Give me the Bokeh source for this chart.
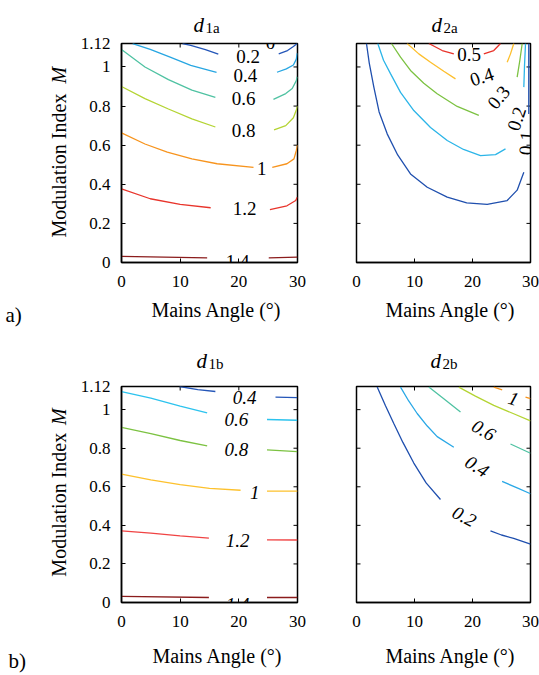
from bokeh.plotting import figure
from bokeh.models import Range1d, FixedTicker, Label, ColumnDataSource
from bokeh.layouts import column, row
from bokeh.embed import file_html
from bokeh.resources import INLINE
from bokeh.core.properties import value

FONT = "Liberation Serif"
nan = float("nan")

# ---------------- axes ----------------
x_ticks = [0, 10, 20, 30]
x_tick_labels = ["0", "10", "20", "30"]
y_ticks = [0, 0.2, 0.4, 0.6, 0.8, 1, 1.12]
y_tick_labels = ["0", "0.2", "0.4", "0.6", "0.8", "1", "1.12"]
x_label = "Mains Angle (\u00b0)"
y_label = "Modulation Index"
y_label_var = "M"

# ---------------- d1a contours (x: mains angle, y: M) ----------------
d1a_colors = ["#2456b8", "#27a6e2", "#4fc2a2", "#b4d433", "#f7941e", "#e8342b", "#8b1c1c"]
d1a_l02_x = [10.4, 11.8, 14.3, 16.5, nan, 26.8, 28.3, 29.3, 29.95]
d1a_l02_y = [1.12, 1.11, 1.089, 1.066, nan, 1.067, 1.084, 1.105, 1.12]
d1a_l04_x = [1.9, 4.9, 8.4, 11.8, 16.2, nan, 26.5, 28.1, 29.3, 29.8, 29.95]
d1a_l04_y = [1.119, 1.09, 1.049, 1.008, 0.972, nan, 0.973, 0.99, 1.01, 1.04, 1.07]
d1a_l06_x = [0, 4.0, 8.0, 12.0, 16.0, nan, 25.9, 28.0, 29.1, 29.8, 29.95]
d1a_l06_y = [1.089, 1.0, 0.935, 0.882, 0.845, nan, 0.834, 0.864, 0.89, 0.93, 0.95]
d1a_l08_x = [0, 4, 8, 12, 16, nan, 26, 28, 29.3, 29.8, 30]
d1a_l08_y = [0.90, 0.838, 0.785, 0.735, 0.693, nan, 0.678, 0.70, 0.74, 0.78, 0.80]
d1a_l10_x = [0, 4, 7.8, 12, 16.3, 22.5, nan, 25.7, 28.2, 29.4, 29.8, 30]
d1a_l10_y = [0.663, 0.606, 0.564, 0.53, 0.505, 0.487, nan, 0.487, 0.505, 0.53, 0.573, 0.6]
d1a_l12_x = [0, 4.9, 10, 15.2, nan, 25.3, 28.2, 29.7, 29.95]
d1a_l12_y = [0.377, 0.326, 0.297, 0.28, nan, 0.27, 0.29, 0.317, 0.334]
d1a_l14_x = [0, 14.6, nan, 25.1, 30]
d1a_l14_y = [0.031, 0.024, nan, 0.024, 0.027]
d1a_lab_text = ["0", "0.2", "0.4", "0.6", "0.8", "1", "1.2", "1.4"]
d1a_lab_x = [25.4, 21.6, 21.1, 20.8, 20.8, 23.9, 21.0, 19.8]
d1a_lab_y = [1.125, 1.053, 0.956, 0.839, 0.675, 0.481, 0.276, 0.005]
d1a_lab_ang = [0, 0, 0, 0, 0, 0, 0, 0]

# ---------------- d2a contours ----------------
d2a_colors = ["#1f4fae", "#2cb5e8", "#7cc242", "#fdbf2d", "#e8342b"]
d2a_l01_x = [1.72, 2.2, 2.99, 3.9, 5.29, 7.1, 9.31, 12.2, 15.64, 19.0, 22.53, 25.98, 27.7, 28.85, nan, 29.7, 29.7]
d2a_l01_y = [1.12, 1.02, 0.897, 0.77, 0.658, 0.55, 0.453, 0.385, 0.334, 0.305, 0.297, 0.317, 0.37, 0.462, nan, 0.76, 1.12]
d2a_l02_x = [3.67, 4.66, 5.86, 7.59, 9.88, 12.76, 15.64, 18.45, 21.38, 23.97, 25.69, nan, 28.85, 28.97, 29.14]
d2a_l02_y = [1.12, 1.034, 0.966, 0.87, 0.777, 0.69, 0.624, 0.578, 0.547, 0.552, 0.581, nan, 0.897, 1.008, 1.12]
d2a_l03_x = [6.03, 7.59, 9.31, 11.6, 13.91, 17.36, 21.09, nan, 27.7, 28.16, 28.57]
d2a_l03_y = [1.12, 1.05, 0.982, 0.917, 0.863, 0.798, 0.752, nan, 0.948, 1.033, 1.12]
d2a_l04_x = [8.74, 10.74, 12.76, 15.05, 17.07, nan, 25.98, 26.55, 27.12]
d2a_l04_y = [1.12, 1.067, 1.024, 0.978, 0.939, nan, 1.024, 1.067, 1.12]
d2a_l05_x = [12.47, 14.78, 16.78, nan, 21.95, 23.67, 24.83]
d2a_l05_y = [1.12, 1.084, 1.067, nan, 1.067, 1.084, 1.12]
d2a_lab_text = ["0.5", "0.4", "0.3", "0.2", "0.1"]
d2a_lab_x = [19.4, 21.6, 24.5, 27.6, 29.25]
d2a_lab_y = [1.062, 0.95, 0.845, 0.735, 0.61]
d2a_lab_ang = [0, 18, 50, 72, 86]

# ---------------- d1b contours ----------------
d1b_colors = ["#2456b8", "#2cc3ee", "#7cc242", "#fdc12d", "#f04343", "#8b1c1c"]
d1b_l04_x = [9.9, 13.0, 16.0, nan, 26.25, 29.95]
d1b_l04_y = [1.12, 1.104, 1.094, nan, 1.065, 1.062]
d1b_l06_x = [0, 5, 10, 14.6, nan, 24.8, 29.95]
d1b_l06_y = [1.093, 1.06, 1.018, 0.983, nan, 0.949, 0.945]
d1b_l08_x = [0, 5, 10, 14.6, nan, 24.8, 29.95]
d1b_l08_y = [0.908, 0.876, 0.84, 0.812, nan, 0.791, 0.782]
d1b_l10_x = [0, 5, 10, 15, 20.3, nan, 24.8, 30]
d1b_l10_y = [0.666, 0.636, 0.611, 0.592, 0.582, nan, 0.577, 0.577]
d1b_l12_x = [0, 5, 10, 14.9, nan, 24.8, 30]
d1b_l12_y = [0.371, 0.36, 0.345, 0.334, nan, 0.325, 0.324]
d1b_l14_x = [0, 14.9, nan, 24.8, 30]
d1b_l14_y = [0.032, 0.026, nan, 0.026, 0.026]
d1b_lab_text = ["0.4", "0.6", "0.8", "1", "1.2", "1.4"]
d1b_lab_x = [21.0, 19.6, 19.6, 22.7, 19.8, 19.8]
d1b_lab_y = [1.061, 0.951, 0.791, 0.570, 0.324, -0.01]
d1b_lab_ang = [0, 0, 0, 0, 0, 0]

# ---------------- d2b contours ----------------
d2b_colors = ["#1f4fae", "#2aa8e6", "#4fc2a2", "#b4d433", "#f7941e"]
d2b_l02_x = [3.57, 5.0, 6.43, 8.0, 9.88, 12.0, 14.48, nan, 23.1, 25.0, 27.1, 30]
d2b_l02_y = [1.117, 1.02, 0.928, 0.83, 0.723, 0.62, 0.534, nan, 0.371, 0.35, 0.332, 0.303]
d2b_l04_x = [7.59, 9.0, 10.46, 12.2, 13.91, 16.78, nan, 25.1, 27.7, 30]
d2b_l04_y = [1.117, 1.045, 0.98, 0.915, 0.86, 0.805, nan, 0.628, 0.594, 0.564]
d2b_l06_x = [12.47, 15.05, 17.93, nan, 26.55, 30]
d2b_l06_y = [1.117, 1.057, 0.988, nan, 0.822, 0.774]
d2b_l08_x = [17.64, 20.5, 23.67, 27.0, 30]
d2b_l08_y = [1.117, 1.07, 1.022, 0.98, 0.942]
d2b_l10_x = [23.67, 25.12, nan, 29.14, 30]
d2b_l10_y = [1.117, 1.103, nan, 1.065, 1.057]
d2b_lab_text = ["0.2", "0.4", "0.6", "1"]
d2b_lab_x = [18.6, 20.8, 21.95, 27.07]
d2b_lab_y = [0.447, 0.706, 0.894, 1.058]
d2b_lab_ang = [-28, -32, -30, -18]


def make_fig(bl, fw, br, bt, fh, bb, show_y):
    p = figure(width=bl + fw + br, height=bt + fh + bb,
               x_range=Range1d(0, 30), y_range=Range1d(0, 1.12),
               output_backend="svg", toolbar_location=None,
               min_border_left=bl, min_border_right=br,
               min_border_top=bt, min_border_bottom=bb)
    p.background_fill_color = "white"
    p.border_fill_color = "white"
    p.xgrid.visible = False
    p.ygrid.visible = False
    p.outline_line_color = "black"
    p.outline_line_width = 1.5
    for ax in (p.xaxis[0], p.yaxis[0]):
        ax.axis_line_color = "black"
        ax.axis_line_width = 1.5
        ax.major_tick_in = 4
        ax.major_tick_out = 0
        ax.minor_tick_line_color = None
        ax.major_tick_line_color = "black"
        ax.major_label_text_font = FONT
        ax.major_label_text_font_size = "17px"
        ax.major_label_text_color = "black"
    p.xaxis.ticker = FixedTicker(ticks=x_ticks)
    p.xaxis.major_label_overrides = dict(zip(x_ticks, x_tick_labels))
    p.xaxis.major_label_standoff = 13
    p.yaxis.ticker = FixedTicker(ticks=y_ticks)
    p.yaxis.major_label_overrides = dict(zip(y_ticks, y_tick_labels))
    p.yaxis.major_label_standoff = 11
    if not show_y:
        p.yaxis.visible = False
        p.scatter(x=[x_ticks[0]] * len(y_ticks), y=y_ticks, marker="dash", size=8,
                  line_color="black", line_width=1)
    p.scatter(x=x_ticks, y=[y_ticks[-1]] * len(x_ticks), marker="dash", size=8,
              angle=90, angle_units="deg", line_color="black", line_width=1)
    p.scatter(x=[x_ticks[-1]] * len(y_ticks), y=y_ticks, marker="dash", size=8,
              line_color="black", line_width=1)
    return p


def add_lines(p, xs_list, ys_list, colors):
    for xs, ys, c in zip(xs_list, ys_list, colors):
        p.line(xs, ys, line_color=c, line_width=1.3)


def add_labels(p, texts, xs, ys, angs, italic):
    src = ColumnDataSource(dict(x=xs, y=ys, t=texts, a=angs))
    p.text(x="x", y="y", text="t", angle="a", angle_units="deg", source=src,
           text_font=value(FONT), text_font_size=value("19px"),
           text_font_style=value("italic" if italic else "normal"),
           text_align="center", text_baseline="middle", text_color="black")


def side_label(p, place, x, y, dx, dy, text, size, style="normal", angle=0, align="left"):
    p.add_layout(Label(x=x, y=y, x_offset=dx, y_offset=dy, text=text,
                       angle=angle, angle_units="deg",
                       text_font=FONT, text_font_size=size, text_font_style=style,
                       text_baseline="alphabetic", text_align=align, text_color="black"), place)


def add_title(p, sub, dx, up):
    side_label(p, "above", 0, 1.12, dx, up, "d", "21px", "italic")
    side_label(p, "above", 0, 1.12, dx + 12, up - 3, sub, "15px")


# ---- panel a (top row) ----
pA = make_fig(121, 176, 29, 43, 219, 81, True)
add_lines(pA, [d1a_l02_x, d1a_l04_x, d1a_l06_x, d1a_l08_x, d1a_l10_x, d1a_l12_x, d1a_l14_x],
          [d1a_l02_y, d1a_l04_y, d1a_l06_y, d1a_l08_y, d1a_l10_y, d1a_l12_y, d1a_l14_y], d1a_colors)
add_labels(pA, d1a_lab_text, d1a_lab_x, d1a_lab_y, d1a_lab_ang, False)
add_title(pA, "1a", 72, 19)
side_label(pA, "below", 15, 0, 7, -47, x_label, "20px", align="center")
side_label(pA, "left", 0, 0.128, -63, 0, y_label, "20px", angle=90)
side_label(pA, "left", 0, 0.915, -63, 0, y_label_var, "20px", "italic", angle=90)
side_label(pA, "below", 0, 0, -116, -52, "a)", "21px")

pB = make_fig(30, 174, 9, 43, 219, 81, False)
add_lines(pB, [d2a_l01_x, d2a_l02_x, d2a_l03_x, d2a_l04_x, d2a_l05_x],
          [d2a_l01_y, d2a_l02_y, d2a_l03_y, d2a_l04_y, d2a_l05_y], d2a_colors)
add_labels(pB, d2a_lab_text, d2a_lab_x, d2a_lab_y, d2a_lab_ang, False)
add_title(pB, "2a", 75, 19)
side_label(pB, "below", 15, 0, 7, -47, x_label, "20px", align="center")

# ---- panel b (bottom row) ----
pC = make_fig(121, 176, 29, 43, 218, 71, True)
add_lines(pC, [d1b_l04_x, d1b_l06_x, d1b_l08_x, d1b_l10_x, d1b_l12_x, d1b_l14_x],
          [d1b_l04_y, d1b_l06_y, d1b_l08_y, d1b_l10_y, d1b_l12_y, d1b_l14_y], d1b_colors)
add_labels(pC, d1b_lab_text, d1b_lab_x, d1b_lab_y, d1b_lab_ang, True)
add_title(pC, "1b", 75, 26)
side_label(pC, "below", 15, 0, 8, -53, x_label, "20px", align="center")
side_label(pC, "left", 0, 0.134, -63, 0, y_label, "20px", angle=90)
side_label(pC, "left", 0, 0.92, -63, 0, y_label_var, "20px", "italic", angle=90)
side_label(pC, "below", 0, 0, -113, -58, "b)", "21px")

pD = make_fig(30, 174, 9, 43, 218, 71, False)
add_lines(pD, [d2b_l02_x, d2b_l04_x, d2b_l06_x, d2b_l08_x, d2b_l10_x],
          [d2b_l02_y, d2b_l04_y, d2b_l06_y, d2b_l08_y, d2b_l10_y], d2b_colors)
add_labels(pD, d2b_lab_text, d2b_lab_x, d2b_lab_y, d2b_lab_ang, True)
add_title(pD, "2b", 74, 26)
side_label(pD, "below", 15, 0, 7, -53, x_label, "20px", align="center")

layout = column(row(pA, pB), row(pC, pD))
open("out.html", "w").write(file_html(layout, INLINE))
